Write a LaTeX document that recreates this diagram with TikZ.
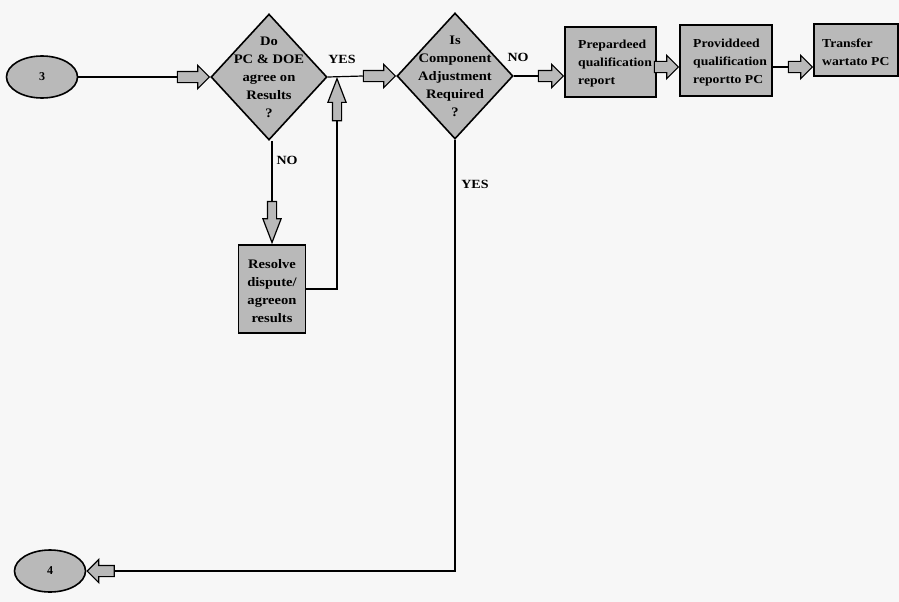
\documentclass[tikz,border=0pt]{standalone}
\usepackage{fontspec}
\setmainfont{Liberation Serif}
\newfontfamily\widefont{Liberation Serif}[FakeStretch=1.12]
\usetikzlibrary{shapes.geometric,shapes.arrows}
\tikzset{
  conn/.style={line width=1.2pt},
  shp/.style={draw, line width=1.6pt, fill=gray!55},
  dia/.style={shp, diamond, minimum width=116pt, minimum height=126pt, inner sep=0pt},
  oval/.style={shp, ellipse, minimum width=71pt, minimum height=42pt, inner sep=0pt, font=\bfseries\fontsize{12}{14}\selectfont},
  box/.style={shp, rectangle, inner sep=0pt},
  txt/.style={font=\widefont\bfseries\fontsize{13}{18}\selectfont, inner sep=0pt},
  btxt/.style={font=\widefont\bfseries\fontsize{12.2}{18}\selectfont, inner sep=0pt, align=left, anchor=west},
  lbl/.style={font=\widefont\bfseries\fontsize{12.5}{14}\selectfont, inner sep=0pt},
  harrow/.style={draw, line width=1.2pt, fill=gray!55, single arrow, single arrow head extend=6pt,
                 inner xsep=0pt, inner ysep=5pt, anchor=tip},
  varrow/.style={draw, line width=1.2pt, fill=gray!55, single arrow, single arrow head extend=4.5pt,
                 single arrow tip angle=42, inner xsep=0pt, inner ysep=4pt, anchor=tip},
}
\begin{document}
\begin{tikzpicture}[x=1pt,y=-1pt]
\fill[black!3] (0,0) rectangle (899,602);
\useasboundingbox (0,0) rectangle (899,602);

% nodes
\node[oval] (o3) at (42,77) {3};
\node[dia] (d1) at (269,77) {};
\node[txt, align=center] (d1t) at (269,77) {Do\\PC \& DOE\\agree on\\Results\\?};
\node[dia] (d2) at (455,76) {};
\node[txt, align=center] (d2t) at (455,76) {Is\\Component\\Adjustment\\Required\\?};
\node[box, minimum width=91pt, minimum height=70pt] (b1) at (610.5,62) {};
\node[btxt] (b1t) at (578,64) {Prepardeed\\qualification\\report};
\node[box, minimum width=92pt, minimum height=71pt] (b2) at (726,60.5) {};
\node[btxt] (b2t) at (693,63) {Providdeed\\qualification\\reportto PC};
\node[box, minimum width=84pt, minimum height=52pt] (b3) at (856,50) {};
\node[btxt] (b3t) at (822,52) {Transfer\\wartato PC};
\node[box, minimum width=67pt, minimum height=88pt] (r) at (272,289) {};
\node[txt, align=center] (rt) at (272,291) {Resolve\\dispute/\\agreeon\\results};
\node[oval] (o4) at (50,571) {4};

% labels
\node[lbl] (l1) at (342,59) {YES};
\node[lbl] (l2) at (287,160) {NO};
\node[lbl] (l3) at (518,57) {NO};
\node[lbl] (l4) at (475,184) {YES};

% block arrows
\node[harrow, minimum height=32pt] (a1) at (d1.west) {};
\node[harrow, minimum height=32pt] (a2) at (d2.west) {};
\coordinate (j1) at (337,77);
\node[varrow, minimum height=42pt, rotate=90] (a3) at (j1) {};
\node[varrow, minimum height=41pt, rotate=-90] (a4) at (r.north) {};
\node[harrow, minimum height=27pt, rotate=180] (a5) at (o4.east) {};
\node[harrow, minimum height=25pt] (a6) at (b1.west |- d2.east) {};
\coordinate (c7) at (0,67);
\node[harrow, minimum height=24pt] (a7) at (b2.west |- c7) {};
\node[harrow, minimum height=24pt] (a8) at (b3.west |- c7) {};

% connectors
\draw[conn] (o3.east) -- (a1.tail);
\draw[conn] (d1.east) -- (a2.tail);
\draw[conn] (r.east) -| (a3.tail);
\draw[conn] (a4.tail |- d1.south) -- (a4.tail);
\draw[conn] (d2.south) |- (a5.tail);
\draw[conn] (d2.east) -- (a6.tail);
\draw[conn] (b2.east |- c7) -- (a8.tail);
\end{tikzpicture}
\end{document}
